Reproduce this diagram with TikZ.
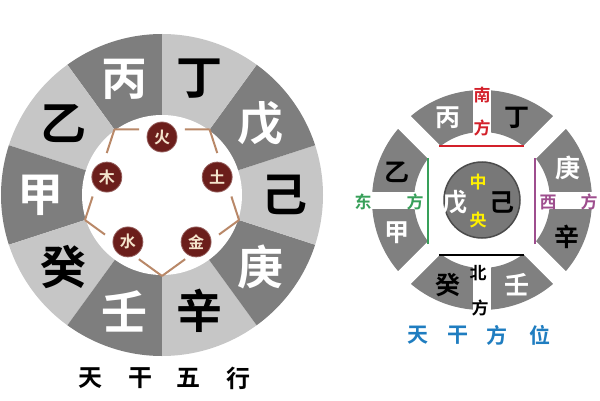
\documentclass[tikz,border=0pt]{standalone}
\usepackage{fontspec}
\newfontfamily\cjk{Noto Sans CJK SC}[BoldFont=* Bold]
\usepackage{tikz}
\usetikzlibrary{positioning,calc}
\definecolor{wdark}{HTML}{7E7E7E}
\definecolor{wlight}{HTML}{C6C6C6}
\definecolor{ringgray}{HTML}{808080}
\definecolor{midgray}{HTML}{787878}
\definecolor{elemred}{HTML}{6B1E1B}
\definecolor{elemtext}{HTML}{F4E4CC}
\definecolor{pentaline}{HTML}{B98868}
\definecolor{southred}{HTML}{D3202A}
\definecolor{eastgreen}{HTML}{38A05A}
\definecolor{westpurple}{HTML}{9E4E8E}
\definecolor{midyellow}{HTML}{FFF000}
\definecolor{titleblue}{HTML}{1F7DC0}
\tikzset{
  bigw/.style={inner sep=0pt, text=white, font={\cjk\bfseries\fontsize{46}{46}\selectfont}},
  bigb/.style={inner sep=0pt, text=black, font={\cjk\bfseries\fontsize{46}{46}\selectfont}},
  elem/.style={circle, minimum size=30pt, inner sep=0pt, fill=elemred, draw=elemred!70!white,
    line width=0.8pt, text=elemtext, font={\cjk\bfseries\fontsize{16}{16}\selectfont}},
  penta/.style={pentaline, line width=2pt},
  ttl/.style={inner sep=0pt, font={\cjk\bfseries\fontsize{24}{24}\selectfont}},
  smw/.style={inner sep=0pt, text=white, font={\cjk\bfseries\fontsize{25}{25}\selectfont}},
  smb/.style={inner sep=0pt, text=black, font={\cjk\bfseries\fontsize{25}{25}\selectfont}},
  dirt/.style={inner sep=0pt, font={\cjk\bfseries\fontsize{17}{17}\selectfont}},
  band/.style={white, line width=18pt}
}
\begin{document}
\begin{tikzpicture}[x=1pt,y=1pt]
\useasboundingbox (0,0) rectangle (600,400);
\begin{scope}[shift={(162,205)}]
\fill[wdark] (0,0) -- (90:161) arc[start angle=90,end angle=126,radius=161] -- cycle;
\fill[wlight] (0,0) -- (126:161) arc[start angle=126,end angle=162,radius=161] -- cycle;
\fill[wdark] (0,0) -- (162:161) arc[start angle=162,end angle=198,radius=161] -- cycle;
\fill[wlight] (0,0) -- (198:161) arc[start angle=198,end angle=234,radius=161] -- cycle;
\fill[wdark] (0,0) -- (234:161) arc[start angle=234,end angle=270,radius=161] -- cycle;
\fill[wlight] (0,0) -- (270:161) arc[start angle=270,end angle=306,radius=161] -- cycle;
\fill[wdark] (0,0) -- (306:161) arc[start angle=306,end angle=342,radius=161] -- cycle;
\fill[wlight] (0,0) -- (342:161) arc[start angle=342,end angle=378,radius=161] -- cycle;
\fill[wdark] (0,0) -- (18:161) arc[start angle=18,end angle=54,radius=161] -- cycle;
\fill[wlight] (0,0) -- (54:161) arc[start angle=54,end angle=90,radius=161] -- cycle;
\fill[white] (0,0) circle[radius=80];
\coordinate (v1) at (54:81);
\coordinate (v2) at (126:81);
\coordinate (v3) at (198:81);
\coordinate (v4) at (270:81);
\coordinate (v5) at (342:81);
\draw[penta] (v1) -- ($(v1)!.26!(v2)$) ($(v1)!.74!(v2)$) -- (v2);
\draw[penta] (v2) -- ($(v2)!.26!(v3)$) ($(v2)!.74!(v3)$) -- (v3);
\draw[penta] (v3) -- ($(v3)!.26!(v4)$) ($(v3)!.70!(v4)$) -- (v4);
\draw[penta] (v4) -- ($(v4)!.30!(v5)$) ($(v4)!.74!(v5)$) -- (v5);
\draw[penta] (v5) -- ($(v5)!.26!(v1)$) ($(v5)!.74!(v1)$) -- (v1);
\node[elem] (huo) at (90:58) {火};
\node[elem] (tu) at (18:58) {土};
\node[elem] (jin) at (-54:58) {金};
\node[elem] (shui) at (-126:58) {水};
\node[elem] (mu) at (162:58) {木};
\node[bigw] (bing) at (108:122) {丙};
\node[bigb] (ding) at (72:122) {丁};
\node[bigw] (wu) at (36:122) {戊};
\node[bigb] (ji) at (0:122) {己};
\node[bigw] (geng) at (-36:122) {庚};
\node[bigb] (xin) at (-72:122) {辛};
\node[bigw] (ren) at (-108:122) {壬};
\node[bigb] (gui) at (-144:122) {癸};
\node[bigw] (jia) at (180:122) {甲};
\node[bigb] (yi) at (144:122) {乙};
\node[ttl] (lt1) at (-72,-183) {天};
\node[ttl] (lt2) at (-22,-183) {干};
\node[ttl] (lt3) at (26,-183) {五};
\node[ttl] (lt4) at (76,-183) {行};
\end{scope}
\begin{scope}[shift={(482,200)}]
\fill[ringgray, even odd rule] (0,0) circle[radius=110] (0,0) circle[radius=68];
\draw[band] (135:125) -- (-45:125);
\draw[band] (45:125) -- (225:125);
\fill[white] (-9,60) rectangle (9,115);
\fill[white] (-9,-115) rectangle (9,-60);
\fill[white] (-115,-8.5) rectangle (-60,8.5);
\fill[white] (60,-8.5) rectangle (115,8.5);
\draw[southred, line width=2.5pt] (-43,54) -- (42,54);
\draw[black, line width=2.5pt] (-43,-55) -- (42,-55);
\draw[eastgreen, line width=2pt] (-54,-44) -- (-54,42);
\draw[westpurple, line width=2pt] (53,-44) -- (53,42);
\node[circle, minimum size=76pt, inner sep=0pt, fill=midgray, draw=black!70, line width=1.5pt] (mid) at (0,0) {};
\node[smw] (rbing) at (-34,82) {丙};
\node[smb] (rding) at (35,82) {丁};
\node[smb] (ryi) at (-85,28) {乙};
\node[smw] (rjia) at (-85,-33) {甲};
\node[smw] (rgeng) at (86,32) {庚};
\node[smb] (rxin) at (85,-37) {辛};
\node[smb] (rgui) at (-34,-85) {癸};
\node[smw] (rren) at (35,-85) {壬};
\node[smw] (rwu) at (-27,-2) {戊};
\node[smb] (rji) at (20,-2) {己};
\node[dirt, text=midyellow] (zhong) at (-4,18) {中};
\node[dirt, text=midyellow] (yang) at (-4,-20) {央};
\node[dirt, text=southred] (nan) at (0,105) {南};
\node[dirt, text=southred] (nanf) at (0,72) {方};
\node[dirt, text=eastgreen] (dong) at (-119,-2) {东};
\node[dirt, text=eastgreen] (dongf) at (-67,-2) {方};
\node[dirt, text=westpurple] (xi) at (66,-2) {西};
\node[dirt, text=westpurple] (xif) at (107,-2) {方};
\node[dirt, text=black] (bei) at (-4,-73) {北};
\node[dirt, text=black] (beif) at (-2,-108) {方};
\node[ttl, text=titleblue, font={\cjk\bfseries\fontsize{21}{21}\selectfont}] (rt1) at (-64,-135) {天};
\node[ttl, text=titleblue, font={\cjk\bfseries\fontsize{21}{21}\selectfont}] (rt2) at (-24,-135) {干};
\node[ttl, text=titleblue, font={\cjk\bfseries\fontsize{21}{21}\selectfont}] (rt3) at (15,-135) {方};
\node[ttl, text=titleblue, font={\cjk\bfseries\fontsize{21}{21}\selectfont}] (rt4) at (58,-135) {位};
\end{scope}
\end{tikzpicture}
\end{document}
